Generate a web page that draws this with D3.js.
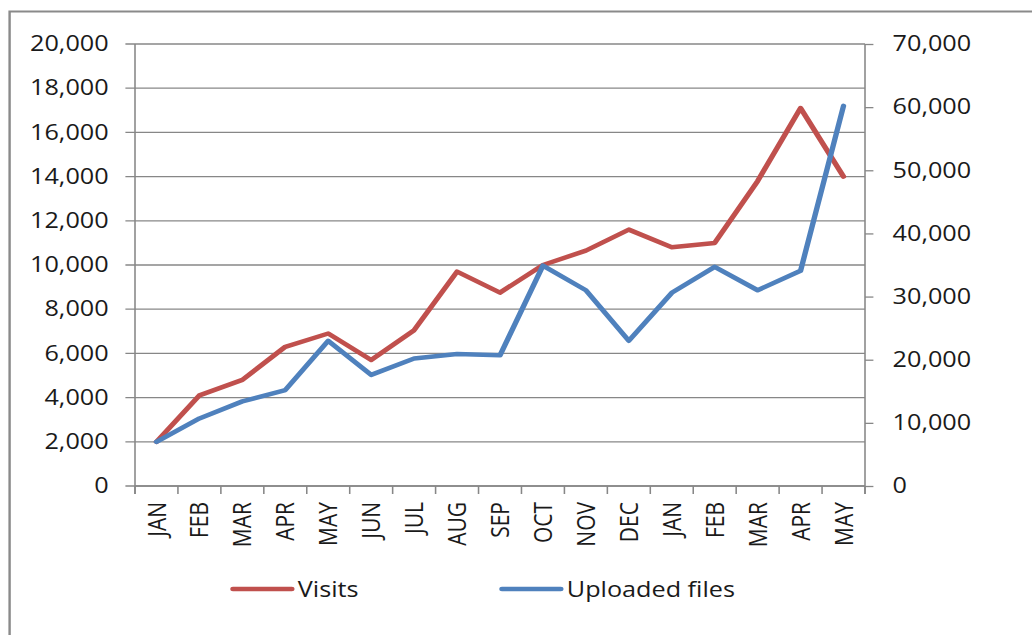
<!DOCTYPE html>
<html>
<head>
<meta charset="utf-8">
<script src="https://cdn.jsdelivr.net/npm/d3@7"></script>
<style>
  html, body { margin: 0; padding: 0; background: #fff; overflow: hidden; }
  text { font-family: "Open Sans", sans-serif; font-size: 21px; fill: #1a1a1a; }
</style>
</head>
<body>
<div id="chart"></div>
<script>
// Data
const months = ["JAN", "FEB", "MAR", "APR", "MAY", "JUN", "JUL", "AUG", "SEP", "OCT", "NOV", "DEC", "JAN", "FEB", "MAR", "APR", "MAY"];
const visits = [2000, 4100, 4800, 6300, 6900, 5700, 7050, 9700, 8750, 10000, 10650, 11600, 10800, 11000, 13800, 17100, 14000];
const uploads = [7000, 10700, 13400, 15200, 23000, 17600, 20200, 20900, 20700, 34900, 31000, 23000, 30600, 34700, 31000, 34100, 60200];
const leftTicks = [0, 2000, 4000, 6000, 8000, 10000, 12000, 14000, 16000, 18000, 20000];
const rightTicks = [0, 10000, 20000, 30000, 40000, 50000, 60000, 70000];

const W = 1032, H = 635;
// the original picture is stretched horizontally, so draw in a narrower space
const sx = 1.2;
const vw = W / sx;

const svg = d3.select("#chart")
    .append("svg")
    .attr("width", W)
    .attr("height", H)
    .attr("viewBox", `0 0 ${vw} ${H}`)
    .attr("preserveAspectRatio", "none");

const plotLeft = 135 / sx, plotRight = 865 / sx, plotTop = 44, plotBottom = 486;
const gray = "#878787";

// outer frame
svg.append("rect")
    .attr("x", 8).attr("y", 11.5)
    .attr("width", vw).attr("height", H)
    .attr("fill", "none")
    .attr("stroke", "#8a8a8a")
    .attr("stroke-width", 2);

const x = d3.scaleBand().domain(d3.range(months.length)).range([plotLeft, plotRight]);
const yL = d3.scaleLinear().domain([0, 20000]).range([plotBottom, plotTop]);
const yR = d3.scaleLinear().domain([0, 70000]).range([plotBottom, plotTop]);
const fmt = d3.format(",");

// gridlines
svg.append("g")
    .selectAll("line")
    .data(leftTicks)
    .join("line")
    .attr("x1", plotLeft - 8).attr("x2", plotRight)
    .attr("y1", d => yL(d)).attr("y2", d => yL(d))
    .attr("stroke", gray).attr("stroke-width", 1.3);

// left axis
const gL = svg.append("g").attr("transform", `translate(${plotLeft},0)`)
    .call(d3.axisLeft(yL).tickValues(leftTicks).tickFormat(fmt).tickSize(0).tickPadding(22));
gL.select(".domain").remove();
gL.selectAll("text").attr("font-size", null).attr("font-family", null).attr("fill", null);
svg.append("line")
    .attr("x1", plotLeft).attr("x2", plotLeft).attr("y1", plotTop).attr("y2", plotBottom + 8)
    .attr("stroke", gray).attr("stroke-width", 1.3);

// right axis
const gR = svg.append("g").attr("transform", `translate(${plotRight},0)`)
    .call(d3.axisRight(yR).tickValues(rightTicks).tickFormat(fmt).tickSize(7).tickPadding(16));
gR.select(".domain").attr("stroke", gray).attr("stroke-width", 1.3).attr("d", `M0,${plotTop}V${plotBottom + 8}`);
gR.selectAll("line").attr("stroke", gray).attr("stroke-width", 1.3);
gR.selectAll("text").attr("font-size", null).attr("font-family", null).attr("fill", null);

// bottom axis: ticks on band edges, rotated labels
const edges = d3.range(months.length + 1).map(i => plotLeft + i * x.step());
svg.append("g")
    .selectAll("line")
    .data(edges)
    .join("line")
    .attr("x1", d => d).attr("x2", d => d)
    .attr("y1", plotBottom).attr("y2", plotBottom + 8)
    .attr("stroke", gray).attr("stroke-width", 1.3);
svg.append("line")
    .attr("x1", plotLeft).attr("x2", plotRight).attr("y1", plotBottom).attr("y2", plotBottom)
    .attr("stroke", gray).attr("stroke-width", 1.3);

svg.append("g")
    .selectAll("text")
    .data(months)
    .join("text")
    .attr("transform", (d, i) => `translate(${x(i) + x.bandwidth() / 2},502) rotate(-90)`)
    .attr("text-anchor", "end")
    .attr("dy", "0.36em")
    .text(d => d);

// series
const series = [
    { name: "Visits", values: visits, scale: yL, color: "#C0504D" },
    { name: "Uploaded files", values: uploads, scale: yR, color: "#4F81BD" }
];

series.forEach(s => {
    const line = d3.line()
        .x((d, i) => x(i) + x.bandwidth() / 2)
        .y(d => s.scale(d));
    svg.append("path")
        .datum(s.values)
        .attr("d", line)
        .attr("fill", "none")
        .attr("stroke", s.color)
        .attr("stroke-width", 4.5)
        .attr("stroke-linejoin", "round")
        .attr("stroke-linecap", "round");
});

// legend
const legendX = [233 / sx, 502 / sx];
const legend = svg.append("g")
    .selectAll("g")
    .data(series)
    .join("g")
    .attr("transform", (d, i) => `translate(${legendX[i]},589)`);
legend.append("line")
    .attr("x1", 0).attr("x2", 49)
    .attr("stroke", d => d.color)
    .attr("stroke-width", 4.5)
    .attr("stroke-linecap", "round");
legend.append("text")
    .attr("x", 54)
    .attr("dy", "0.36em")
    .text(d => d.name);
</script>
</body>
</html>
